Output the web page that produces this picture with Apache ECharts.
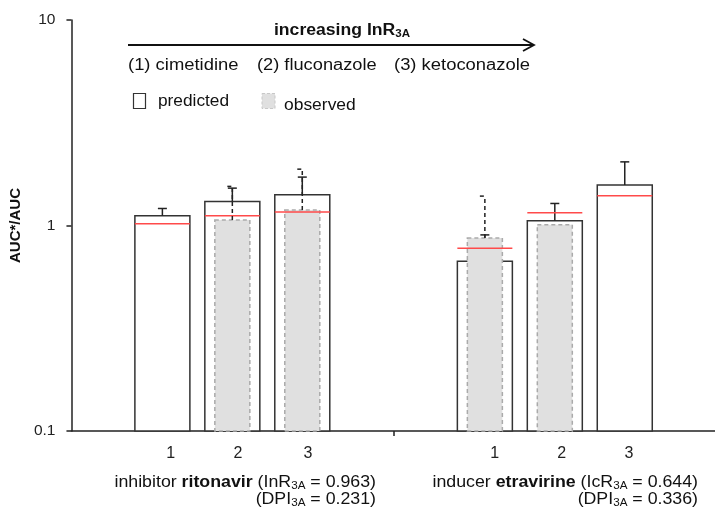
<!DOCTYPE html>
<html>
<head>
<meta charset="utf-8">
<script src="https://cdn.jsdelivr.net/npm/echarts@6/dist/echarts.min.js"></script>
<style>
  html, body { margin: 0; padding: 0; background: #fff; }
  #main { width: 715px; height: 512px; }
</style>
</head>
<body>
<div id="main"></div>
<script>
var FONT = '"Liberation Sans", Arial, sans-serif';

// bar positions on the x value axis (1 unit ~ one bar slot)
var barPos = [1.3, 2.3, 3.3, 5.91, 6.91, 7.91];
var tickLabels = ['1', '2', '3', '1', '2', '3'];
var labelPos = [1.42, 2.38, 3.38, 6.05, 7.01, 7.97];
var groupSplit = [4.61];
var yTicks = [0.1, 1, 10];

// AUC*/AUC values
var predicted = [1.116, 1.31, 1.41, 0.67, 1.055, 1.575];
var predictedUpper = [1.21, 1.52, 1.72, 0.90, 1.28, 2.04];
var observed = [null, 1.064, 1.19, 0.869, 1.009, null];
var observedUpper = [null, 1.55, 1.88, 1.39, null, null];
var redLine = [1.02, 1.116, 1.163, 0.774, 1.154, 1.396];

function pairs(vals) {
    var out = [];
    for (var i = 0; i < vals.length; i++) {
        if (vals[i] != null) out.push([barPos[i], vals[i]]);
    }
    return out;
}
function triples(vals, upper) {
    var out = [];
    for (var i = 0; i < vals.length; i++) {
        if (vals[i] != null && upper[i] != null) out.push([barPos[i], vals[i], upper[i]]);
    }
    return out;
}

function barItem(width, style) {
    return function (params, api) {
        var x = api.value(0);
        var top = api.coord([x, api.value(1)]);
        var base = api.coord([x, 0.1]);
        return {
            type: 'rect',
            shape: { x: top[0] - width / 2, y: top[1], width: width, height: base[1] - top[1] },
            style: style
        };
    };
}

function errItem(capLeft, capRight, style) {
    return function (params, api) {
        var x = api.value(0);
        var a = api.coord([x, api.value(1)]);
        var b = api.coord([x, api.value(2)]);
        return {
            type: 'group',
            children: [
                { type: 'line', shape: { x1: a[0], y1: a[1], x2: b[0], y2: b[1] }, style: style },
                { type: 'line', shape: { x1: b[0] - capLeft, y1: b[1], x2: b[0] + capRight, y2: b[1] }, style: style }
            ]
        };
    };
}

function redItem(params, api) {
    var x = api.value(0);
    var p = api.coord([x, api.value(1)]);
    return {
        type: 'line',
        shape: { x1: p[0] - 27.5, y1: p[1], x2: p[0] + 27.5, y2: p[1] },
        style: { stroke: '#ff4a4a', lineWidth: 1.5 }
    };
}

var normal = { fontSize: 16, fontFamily: FONT, fill: '#111' };
var bold = { fontSize: 16, fontWeight: 'bold', fontFamily: FONT, fill: '#111' };
var sub = { fontSize: 10.5, fontFamily: FONT, padding: [7, 0, 0, 0], fill: '#111' };
var subB = { fontSize: 10.5, fontWeight: 'bold', fontFamily: FONT, padding: [7, 0, 0, 0], fill: '#111' };

// text element, widened a bit like the source figure
function label(x, y, text, align, sx) {
    return {
        type: 'text', x: x, y: y, scaleX: sx,
        style: {
            text: text, align: align, verticalAlign: 'middle',
            rich: { n: normal, b: bold, s: sub, sb: subB }
        }
    };
}

var myChart = echarts.init(document.getElementById('main'));
var option = {
    backgroundColor: '#fff',
    animation: false,
    grid: { left: 70, right: 0, top: 20, bottom: 81 },
    xAxis: {
        type: 'value',
        min: 0,
        max: 9.2,
        splitLine: { show: false },
        axisLine: { lineStyle: { color: '#222', width: 1.5 } },
        axisTick: { show: true, length: 5, customValues: groupSplit, lineStyle: { color: '#222', width: 1.5 } },
        axisLabel: {
            customValues: labelPos,
            margin: 15,
            fontSize: 16,
            fontFamily: FONT,
            color: '#222',
            formatter: function (v) {
                var i = labelPos.indexOf(v);
                return i >= 0 ? tickLabels[i] : '';
            }
        }
    },
    yAxis: {
        type: 'log',
        logBase: 10,
        min: 0.1,
        max: 10,
        name: 'AUC*/AUC',
        nameLocation: 'middle',
        nameGap: 43,
        nameTextStyle: { fontSize: 15, fontWeight: 'bold', fontFamily: FONT, color: '#111' },
        splitLine: { show: false },
        minorTick: { show: false },
        axisLine: { show: true, lineStyle: { color: '#222', width: 1.5 } },
        axisTick: { show: true, length: 5, customValues: yTicks, lineStyle: { color: '#222', width: 1.5 } },
        axisLabel: {
            customValues: yTicks,
            margin: 16,
            fontSize: 15.5,
            fontFamily: FONT,
            color: '#222',
            formatter: function (v) { return String(v); }
        }
    },
    series: [
        {
            name: 'predicted',
            type: 'custom',
            renderItem: barItem(55, { fill: '#fff', stroke: '#333', lineWidth: 1.5 }),
            data: pairs(predicted),
            z: 2
        },
        {
            name: 'predicted error',
            type: 'custom',
            renderItem: errItem(4.5, 4.5, { stroke: '#222', lineWidth: 1.5 }),
            data: triples(predicted, predictedUpper),
            z: 3
        },
        {
            name: 'observed',
            type: 'custom',
            renderItem: barItem(35, { fill: '#e0e0e0', stroke: '#aaa', lineWidth: 1.5, lineDash: [4, 3] }),
            data: pairs(observed),
            z: 4
        },
        {
            name: 'model',
            type: 'custom',
            renderItem: redItem,
            data: pairs(redLine),
            z: 5
        },
        {
            name: 'observed error',
            type: 'custom',
            renderItem: errItem(5, 0, { stroke: '#222', lineWidth: 1.5, lineDash: [4, 3] }),
            data: triples(observed, observedUpper),
            z: 6
        }
    ],
    graphic: [
        // arrow
        { type: 'line', shape: { x1: 128, y1: 45, x2: 534, y2: 45 }, style: { stroke: '#111', lineWidth: 2 } },
        { type: 'polyline', shape: { points: [[523, 39], [534, 45], [523, 51]] }, style: { stroke: '#111', lineWidth: 1.8, fill: null } },
        label(342, 31, '{b|increasing InR}{sb|3A}', 'center', 1.1),
        label(128, 66, '{n|(1) cimetidine}', 'left', 1.15),
        label(257, 66, '{n|(2) fluconazole}', 'left', 1.14),
        label(394, 66, '{n|(3) ketoconazole}', 'left', 1.15),
        // legend
        { type: 'rect', shape: { x: 133.5, y: 93.5, width: 12, height: 15 }, style: { fill: '#fff', stroke: '#333', lineWidth: 1.2 } },
        label(158, 102, '{n|predicted}', 'left', 1.08),
        { type: 'rect', shape: { x: 262, y: 93.5, width: 13, height: 15 }, style: { fill: '#e0e0e0', stroke: '#c8c8c8', lineWidth: 1, lineDash: [3, 2] } },
        label(284, 106, '{n|observed}', 'left', 1.09),
        // group captions
        label(376, 483, '{n|inhibitor }{b|ritonavir}{n| (InR}{s|3A}{n| = 0.963)}', 'right', 1.11),
        label(376, 500, '{n|(DPI}{s|3A}{n| = 0.231)}', 'right', 1.11),
        label(698, 483, '{n|inducer }{b|etravirine}{n| (IcR}{s|3A}{n| = 0.644)}', 'right', 1.11),
        label(698, 500, '{n|(DPI}{s|3A}{n| = 0.336)}', 'right', 1.11)
    ]
};
myChart.setOption(option);
</script>
</body>
</html>
